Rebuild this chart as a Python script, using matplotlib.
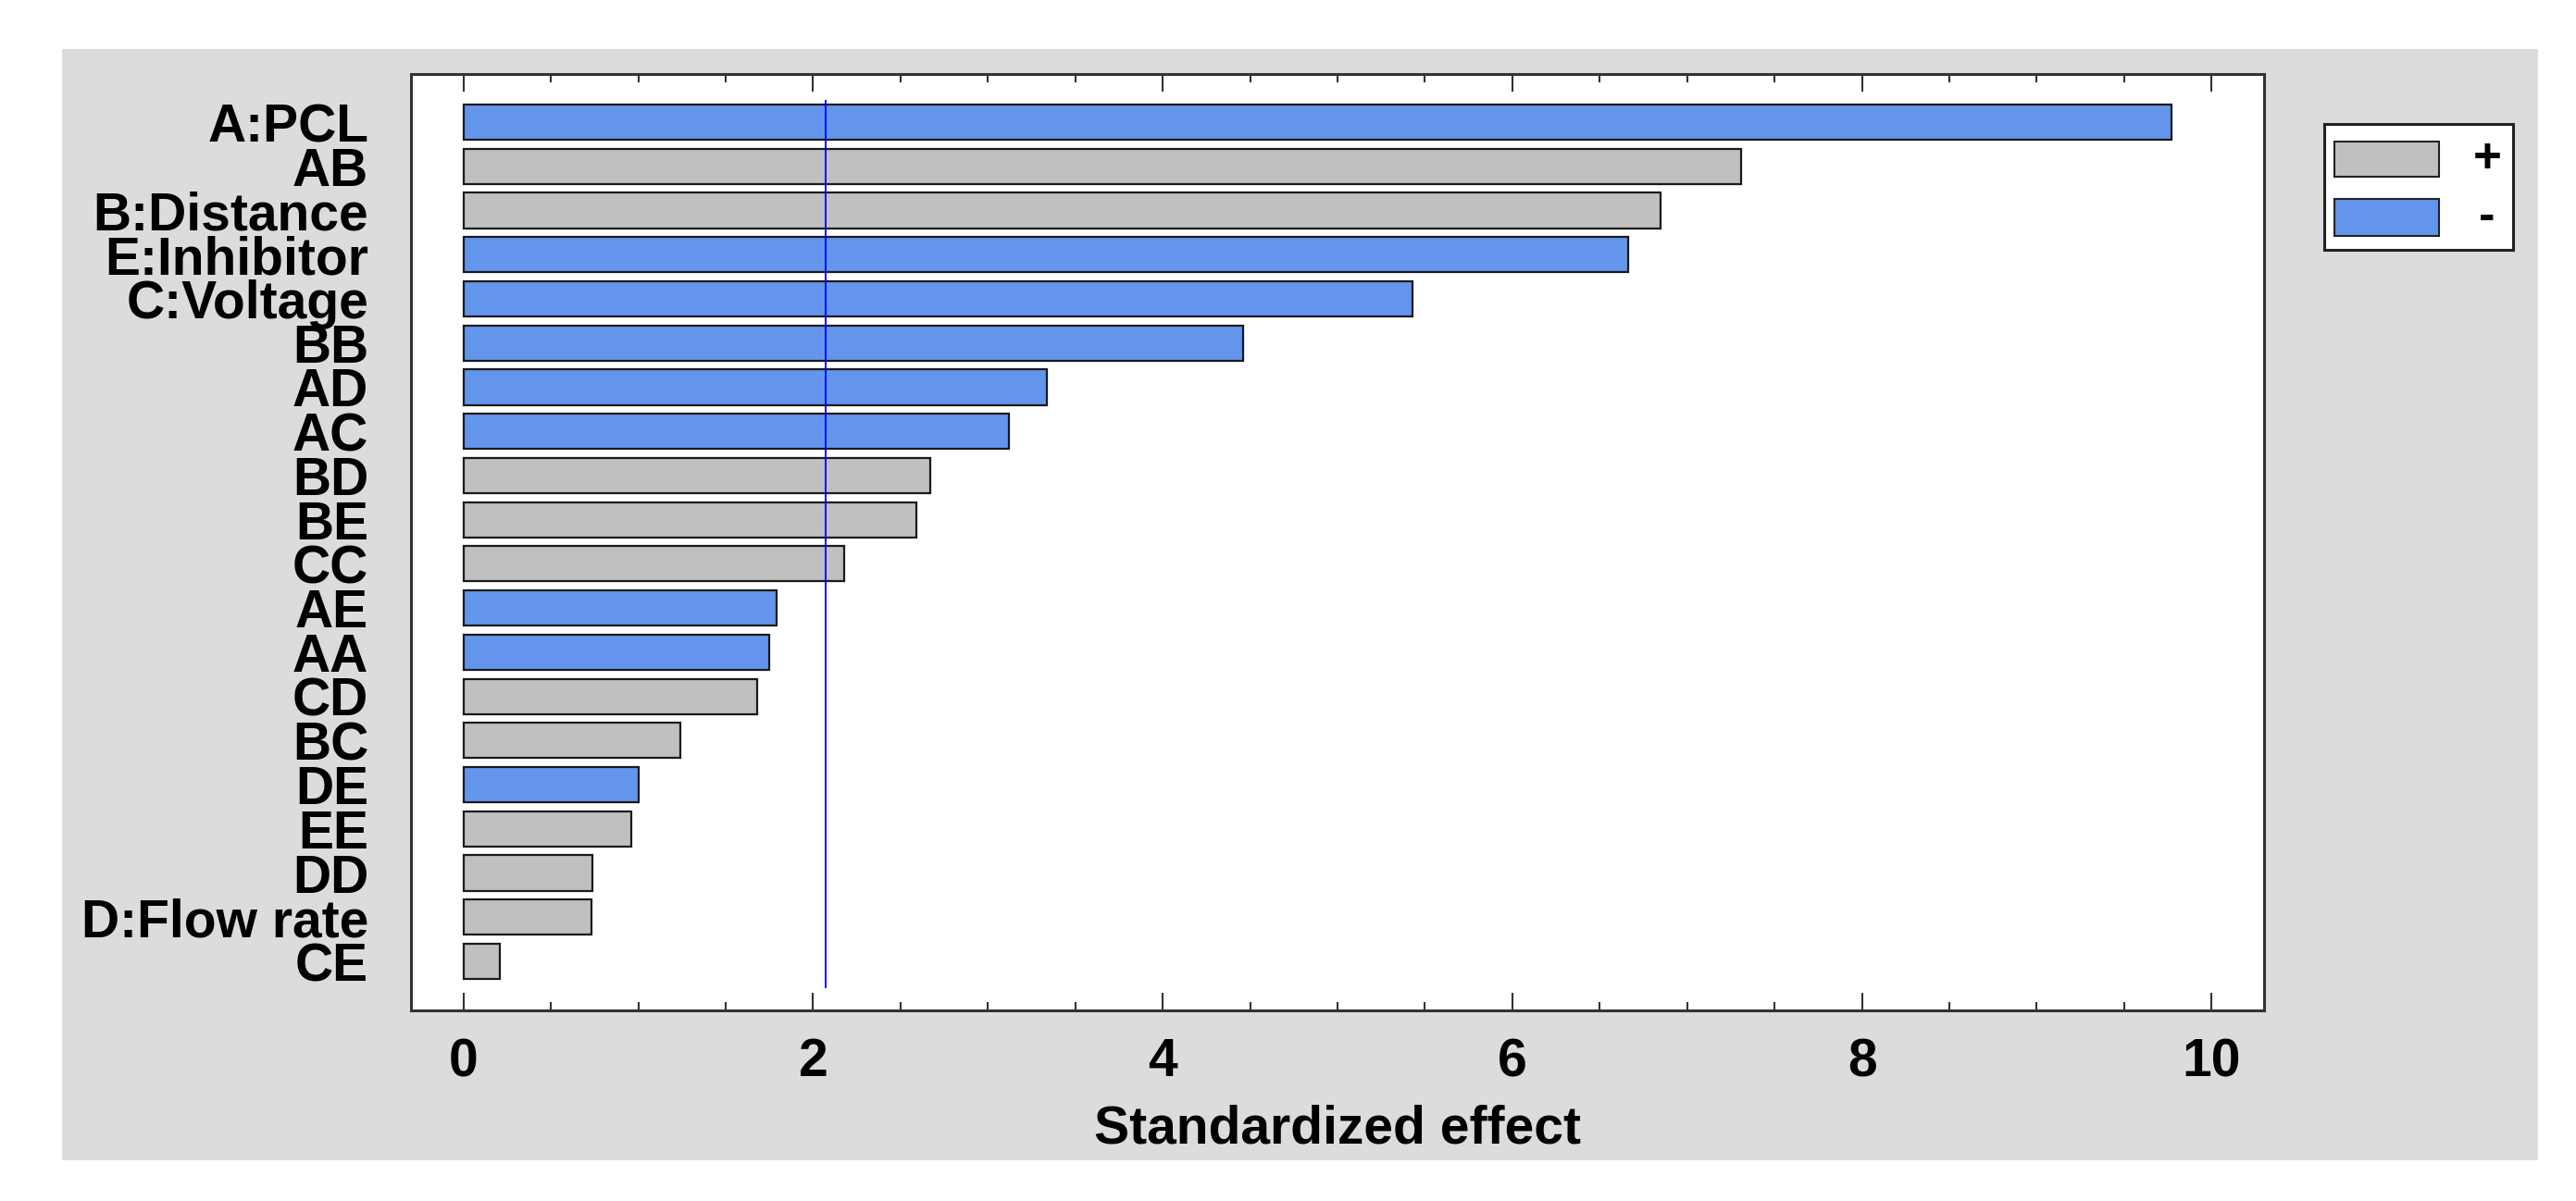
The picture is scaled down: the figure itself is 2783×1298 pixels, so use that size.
import matplotlib
matplotlib.use("Agg")
import matplotlib.pyplot as plt
from matplotlib.patches import Rectangle
from matplotlib.ticker import MultipleLocator

# ---- data ----
terms = ["A:PCL", "AB", "B:Distance", "E:Inhibitor", "C:Voltage", "BB", "AD", "AC",
         "BD", "BE", "CC", "AE", "AA", "CD", "BC", "DE", "EE", "DD", "D:Flow rate", "CE"]
effects = [9.77, 7.31, 6.85, 6.66, 5.43, 4.46, 3.34, 3.12, 2.67, 2.59, 2.18, 1.79,
           1.75, 1.68, 1.24, 1.00, 0.96, 0.74, 0.73, 0.21]
signs = ["-", "+", "+", "-", "-", "-", "-", "-", "+", "+", "+", "-", "-", "+", "+",
         "-", "+", "+", "+", "+"]
critical_value = 2.07
legend_labels = ["+", "-"]
xticks = [0, 2, 4, 6, 8, 10]

sign_colors = {"+": "#C0C0C0", "-": "#6495ED"}

plt.rcParams['font.family'] = ['Liberation Sans', 'DejaVu Sans']
plt.rcParams['font.weight'] = 'bold'

W, H = 2783, 1298
fig = plt.figure(figsize=(W / 100, H / 100), dpi=100, facecolor="white")

# gray panel background
fig.patches.append(Rectangle((67 / W, 1 - 1254 / H), (2742 - 67) / W, (1254 - 53) / H,
                             transform=fig.transFigure, facecolor="#DCDCDC",
                             edgecolor="none", zorder=-10))

ax = fig.add_axes([444 / W, 1 - 1092 / H, (2446 - 444) / W, (1092 - 80) / H])
ax.set_facecolor("white")

ypos = list(range(len(terms)))
colors = [sign_colors[s] for s in signs]
ax.barh(ypos, effects, height=0.8, color=colors, edgecolor="#1a1a1a", linewidth=1.6, zorder=2)
ax.vlines(critical_value, -0.5, 19.6, colors="#0000FF", linewidth=1.3, zorder=3)

ax.set_xlim(-0.3, 10.3)
ax.set_ylim(len(terms) - 1 + 1.11, -1.09)

ax.set_yticks(ypos)
ax.set_yticklabels(terms, fontsize=41, fontweight="bold")
ax.tick_params(axis="y", length=0, pad=33)

ax.set_xticks(xticks)
ax.set_xticklabels([str(t) for t in xticks], fontsize=41, fontweight="bold")
ax.xaxis.set_minor_locator(MultipleLocator(0.5))
ax.tick_params(axis="x", which="both", direction="in", top=True, bottom=True,
               color="#333333", width=1.5, pad=21)
ax.tick_params(axis="x", which="major", length=13.7)
ax.tick_params(axis="x", which="minor", length=6.5)

for sp in ax.spines.values():
    sp.set_linewidth(2.2)
    sp.set_color("#333333")

ax.set_xlabel("Standardized effect", fontsize=41, fontweight="bold", labelpad=13)

# legend box
lx0, ly0, lw, lh = 2511, 134, 204, 136
lax = fig.add_axes([lx0 / W, 1 - (ly0 + lh) / H, lw / W, lh / H])
lax.set_xlim(0, lw)
lax.set_ylim(lh, 0)
lax.set_xticks([])
lax.set_yticks([])
lax.set_facecolor("white")
for sp in lax.spines.values():
    sp.set_linewidth(2.2)
    sp.set_color("#222222")
rows = [(19, 38), (81, 40)]
for lab, (ry, rh) in zip(legend_labels, rows):
    lax.add_patch(Rectangle((11, ry), 113, rh, facecolor=sign_colors[lab],
                            edgecolor="#222222", linewidth=1.5))
    lax.text(176, ry + rh / 2, lab, fontsize=38, fontweight="bold",
             ha="center", va="center")

fig.savefig("out.png", dpi=100, facecolor="white")
